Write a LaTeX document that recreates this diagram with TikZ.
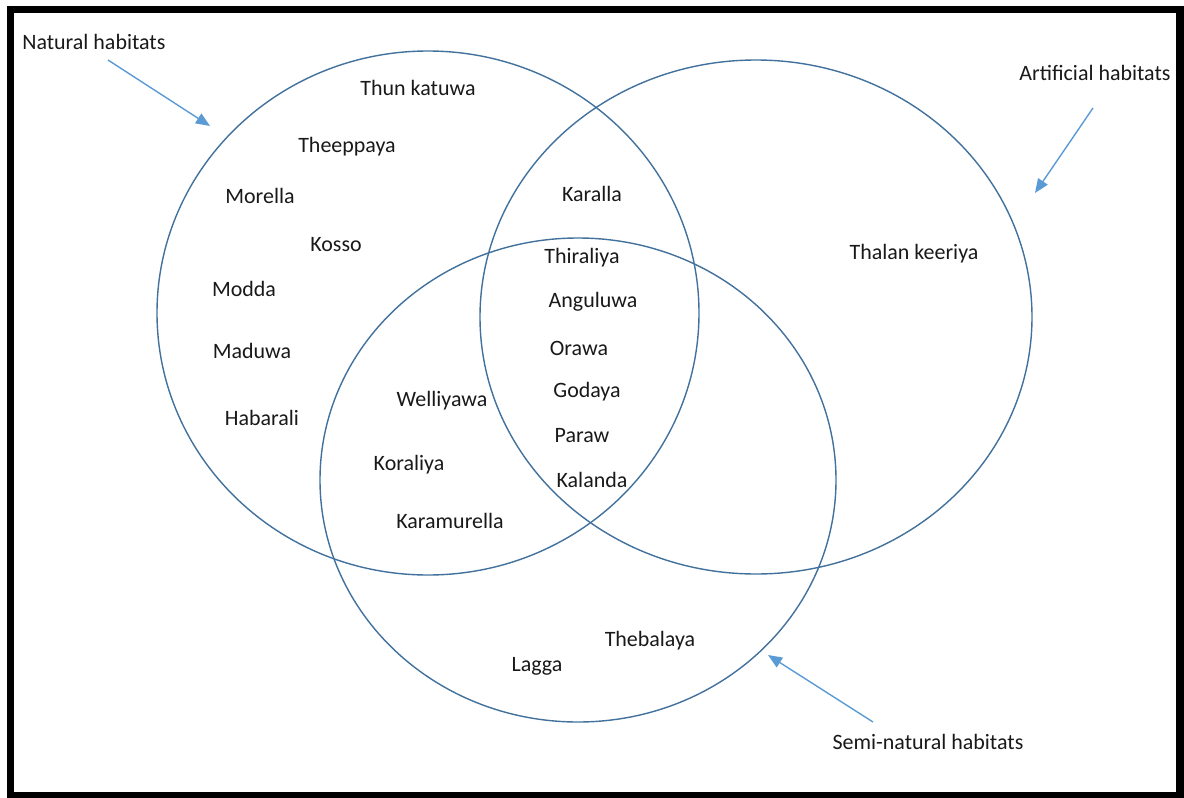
\documentclass[tikz,border=0pt]{standalone}
\usepackage{fontspec}
\setmainfont{Carlito}
\usepackage{tikz}
\usetikzlibrary{arrows.meta}
\usepackage{xcolor}
\definecolor{ringblue}{RGB}{65,113,156}
\definecolor{pointblue}{RGB}{91,155,213}
\definecolor{inkgray}{RGB}{25,25,25}

\begin{document}
\begin{tikzpicture}[x=0.02cm,y=-0.02cm,>={Triangle[length=8pt,width=6.5pt]},
    plant/.style={text=inkgray,font=\fontsize{12.5}{15}\selectfont,inner sep=0pt},
    tag/.style={plant},
    ring/.style={draw=ringblue,line width=0.8pt},
    pointer/.style={->,pointblue,line width=0.8pt}]
    \useasboundingbox (0,0) rectangle (1184,798);
    % Frame
    \draw[line width=4pt] (10.5,9.5) rectangle (1180,796);

    % Circles
    \draw[ring] (428,313) ellipse (271 and 262);
    \draw[ring] (756,317) ellipse (276 and 257);
    \draw[ring] (578,480) ellipse (258 and 242);

    % Set names
    \node[tag,anchor=west] (nat) at (22,42) {Natural habitats};
    \node[tag] (art) at (1095,73) {Artificial habitats};
    \node[tag] (semi) at (928,742) {Semi-natural habitats};

    % Pointers
    \coordinate (natA) at (108,60);
    \coordinate (natB) at (210,126);
    \coordinate (artA) at (1093,108);
    \coordinate (artB) at (1035,193);
    \coordinate (semiA) at (873,722);
    \coordinate (semiB) at (768,655);
    \draw[pointer] (natA) -- (natB);
    \draw[pointer] (artA) -- (artB);
    \draw[pointer] (semiA) -- (semiB);

    % Natural only
    \node[plant] (thun) at (418,88) {Thun katuwa};
    \node[plant] (thee) at (347,147) {Theeppaya};
    \node[plant] (more) at (260,196) {Morella};
    \node[plant] (koss) at (336,245) {Kosso};
    \node[plant] (modd) at (244,289) {Modda};
    \node[plant] (madu) at (252,351) {Maduwa};
    \node[plant] (haba) at (262,418) {Habarali};

    % Natural and artificial
    \node[plant] (kara) at (592,194) {Karalla};

    % Artificial only
    \node[plant] (thal) at (914,254) {Thalan keeriya};

    % All three
    \node[plant] (thir) at (582,258) {Thiraliya};
    \node[plant] (angu) at (593,302) {Anguluwa};
    \node[plant] (oraw) at (579,348) {Orawa};
    \node[plant] (goda) at (587,392) {Godaya};
    \node[plant] (para) at (582,436) {Paraw};
    \node[plant] (kala) at (592,480) {Kalanda};

    % Natural and semi-natural
    \node[plant] (well) at (442,401) {Welliyawa};
    \node[plant] (kora) at (409,465) {Koraliya};
    \node[plant] (kamu) at (450,521) {Karamurella};

    % Semi-natural only
    \node[plant] (lagg) at (537,666) {Lagga};
    \node[plant] (theb) at (650,641) {Thebalaya};
\end{tikzpicture}
\end{document}
